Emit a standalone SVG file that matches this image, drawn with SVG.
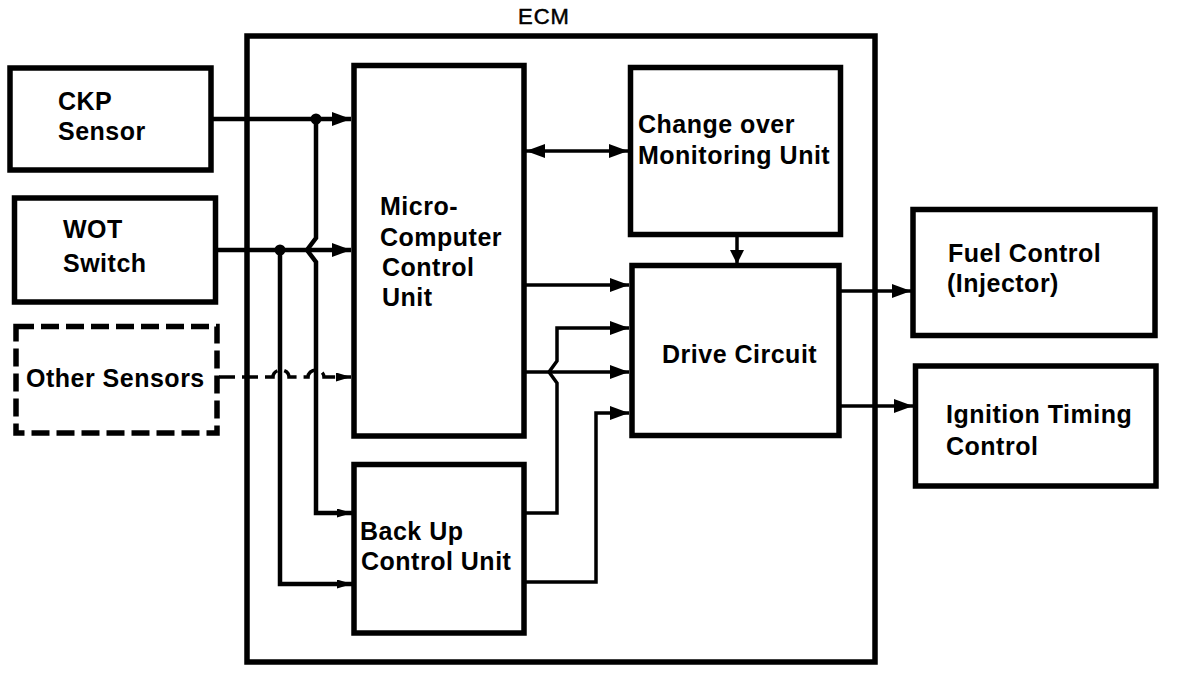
<svg xmlns="http://www.w3.org/2000/svg" width="1184" height="674" viewBox="0 0 1184 674">
<style>
.box{fill:none;stroke:#000;stroke-width:5.5}
.dash{stroke-dasharray:18 7}
.t{font-family:"Liberation Sans",Arial,sans-serif;font-weight:bold;font-size:25px;letter-spacing:0.5px;fill:#000}
.w{fill:none;stroke:#000;stroke-width:4.5}
.c{fill:none;stroke:#000;stroke-width:3.5}
</style>
<defs>
<marker id="ah" markerUnits="userSpaceOnUse" markerWidth="20" markerHeight="16" refX="19" refY="7" orient="auto-start-reverse" viewBox="0 0 20 16">
<path d="M0,0 L19,7 L0,14 z" fill="#000"/>
</marker>
<marker id="am" markerUnits="userSpaceOnUse" markerWidth="16" markerHeight="16" refX="14" refY="7" orient="auto" viewBox="0 0 16 16">
<path d="M0,0 L14,7 L0,14 z" fill="#000"/>
</marker>
<marker id="as" markerUnits="userSpaceOnUse" markerWidth="16" markerHeight="10" refX="15" refY="4.5" orient="auto" viewBox="0 0 16 10">
<path d="M0,0 L15,4.5 L0,9 z" fill="#000"/>
</marker>
</defs>
<rect width="1184" height="674" fill="#fff"/>
<g id="ecm">
<rect class="box" x="247" y="36" width="628" height="626"/>
<text x="518" y="24" style="font-family:'Liberation Sans',Arial,sans-serif;font-size:22px;letter-spacing:1px;stroke:#000;stroke-width:0.5">ECM</text>
</g>
<g id="ckp">
<rect class="box" x="10" y="68" width="201" height="102"/>
<text class="t" x="58" y="110">CKP</text>
<text class="t" x="58" y="140">Sensor</text>
</g>
<g id="wot">
<rect class="box" x="14.5" y="198" width="201" height="104"/>
<text class="t" x="63" y="238">WOT</text>
<text class="t" x="63" y="272">Switch</text>
</g>
<g id="other">
<rect class="box dash" x="16" y="326.5" width="201" height="106.5"/>
<text class="t" x="26" y="387">Other Sensors</text>
</g>
<g id="micro">
<rect class="box" x="354" y="65.5" width="170" height="370.5"/>
<text class="t" x="380" y="215">Micro-</text>
<text class="t" x="380" y="246">Computer</text>
<text class="t" x="382" y="276">Control</text>
<text class="t" x="382" y="306">Unit</text>
</g>
<g id="changeover">
<rect class="box" x="630.5" y="67.5" width="210" height="167"/>
<text class="t" x="638" y="133">Change over</text>
<text class="t" x="638" y="164">Monitoring Unit</text>
</g>
<g id="drive">
<rect class="box" x="632" y="265.5" width="207" height="170"/>
<text class="t" x="662" y="363">Drive Circuit</text>
</g>
<g id="backup">
<rect class="box" x="354" y="464.5" width="170" height="168.5"/>
<text class="t" x="360" y="540">Back Up</text>
<text class="t" x="361" y="570">Control Unit</text>
</g>
<g id="fuel">
<rect class="box" x="913" y="209.5" width="242" height="126"/>
<text class="t" x="948" y="262">Fuel Control</text>
<text class="t" x="947" y="292">(Injector)</text>
</g>
<g id="ignition">
<rect class="box" x="915.5" y="366" width="240.5" height="120"/>
<text class="t" x="946" y="423">Ignition Timing</text>
<text class="t" x="946" y="455">Control</text>
</g>
<g id="connectors">
<path class="w" d="M211,119 H351" marker-end="url(#ah)"/>
<path class="w" d="M215,250 H351" marker-end="url(#ah)"/>
<path class="w" d="M316,119 V238 L307,250 L316,262 V513 H352" marker-end="url(#as)"/>
<path class="w" d="M280,250 V584 H352" marker-end="url(#as)"/>
<circle cx="316" cy="119" r="5.5" fill="#000"/>
<circle cx="280" cy="250" r="5.5" fill="#000"/>
<path class="c" d="M219,377 H273 A8,7 0 0 1 289,377 H308 A8,7 0 0 1 324,377 H351" stroke-dasharray="16 7" marker-end="url(#as)"/>
<path class="c" d="M526,151 H628" marker-start="url(#ah)" marker-end="url(#ah)"/>
<path class="c" d="M737,237 V264" marker-end="url(#am)"/>
<path class="c" d="M526,285 H629" marker-end="url(#ah)"/>
<path class="c" d="M526,372 H629" marker-end="url(#ah)"/>
<path class="c" d="M526,513 H557 V383 L549,372 L557,361 V328 H629" marker-end="url(#ah)"/>
<path class="c" d="M526,582 H596 V413 H629" marker-end="url(#ah)"/>
<path class="c" d="M841,291 H911" marker-end="url(#ah)"/>
<path class="c" d="M841,406 H913" marker-end="url(#ah)"/>
</g>
</svg>
